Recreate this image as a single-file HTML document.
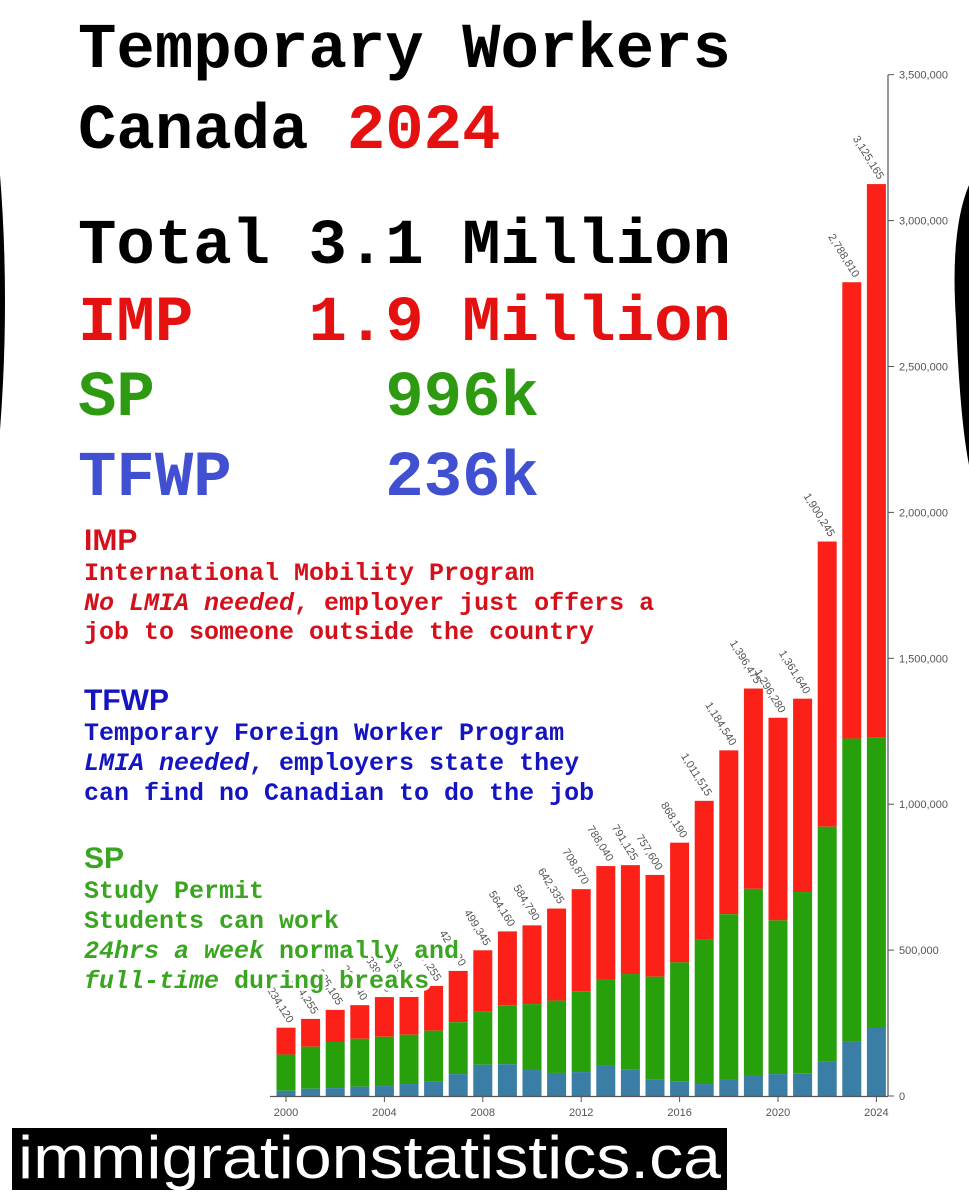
<!DOCTYPE html>
<html><head><meta charset="utf-8">
<style>
html,body{margin:0;padding:0;background:#fff;}
body{width:969px;height:1200px;position:relative;overflow:hidden;}
svg{position:absolute;left:0;top:0;}
.mono{font-family:"Liberation Mono",monospace;font-weight:bold;}
.sans{font-family:"Liberation Sans",sans-serif;}
</style></head>
<body>
<svg id="chart" width="969" height="1200" viewBox="0 0 969 1200">
  <path d="M0,175 Q10,300 0,430 Z" fill="#000"/>
  <path d="M969,185 Q950,230 956,320 Q960,420 969,465 Z" fill="#000"/>
  <g id="bars"></g>
  <g id="labels"></g>
  <g id="yaxis"></g>
  <g id="xaxis"></g>

  <g class="mono" font-size="64">
    <text x="78" y="67" fill="#000">Temporary Workers</text>
    <text x="78" y="148" fill="#000">Canada <tspan fill="#e51010">2024</tspan></text>
    <text x="78" y="263" fill="#000">Total 3.1 Million</text>
    <text x="78" y="340" fill="#e51010" xml:space="preserve">IMP   1.9 Million</text>
    <text x="78" y="415" fill="#2e9a12" xml:space="preserve">SP      996k</text>
    <text x="78" y="495" fill="#4150d0" xml:space="preserve">TFWP    236k</text>
  </g>

  <g class="mono" font-size="25">
    <text class="sans" x="84" y="550" font-size="30" font-weight="bold" fill="#d4101a">IMP</text>
    <text x="84" y="580" fill="#d4101a">International Mobility Program</text>
    <text x="84" y="610" fill="#d4101a"><tspan font-style="italic">No LMIA needed</tspan>, employer just offers a</text>
    <text x="84" y="639" fill="#d4101a">job to someone outside the country</text>

    <text class="sans" x="84" y="710" font-size="30" font-weight="bold" fill="#1515c0">TFWP</text>
    <text x="84" y="740" fill="#1515c0">Temporary Foreign Worker Program</text>
    <text x="84" y="770" fill="#1515c0"><tspan font-style="italic">LMIA needed</tspan>, employers state they</text>
    <text x="84" y="800" fill="#1515c0">can find no Canadian to do the job</text>

    <text class="sans" x="84" y="868" font-size="30" font-weight="bold" fill="#3aa520">SP</text>
    <g fill="#3aa520" stroke="#fff" stroke-width="6" paint-order="stroke">
    <text x="84" y="898">Study Permit</text>
    <text x="84" y="928">Students can work</text>
    <text x="84" y="958"><tspan font-style="italic">24hrs a week</tspan> normally and</text>
    <text x="84" y="988"><tspan font-style="italic">full-time</tspan> during breaks</text>
    </g>
  </g>

  <rect x="12" y="1128" width="715" height="62" fill="#000"/>
  <text class="sans" x="18" y="1178" font-size="60" fill="#fff" textLength="703" lengthAdjust="spacingAndGlyphs">immigrationstatistics.ca</text>
</svg>
<script>
const years = [2000,2001,2002,2003,2004,2005,2006,2007,2008,2009,2010,2011,2012,2013,2014,2015,2016,2017,2018,2019,2020,2021,2022,2023,2024];
const tfwp = [18000,25000,27000,32000,34000,41000,51000,75000,107000,109000,89000,79000,82000,103000,92000,57000,49000,41000,55000,72000,75000,78000,117000,187000,233000];
const sp = [124000,144000,158000,164000,169000,169000,173000,178000,183000,202000,226000,248000,277000,298000,326000,352000,409000,494000,568000,638000,527000,621000,806000,1038000,996000];
const totals = [234120,264255,295105,311340,339050,339210,377255,428630,499345,564160,584790,642335,708870,788040,791125,757600,868190,1011515,1184540,1396475,1296280,1361640,1900245,2788810,3125165];
const yTicks = [0,500000,1000000,1500000,2000000,2500000,3000000,3500000];
const xTickYears = [2000,2004,2008,2012,2016,2020,2024];

const NS='http://www.w3.org/2000/svg';
const y0=1096, pxPerUnit=291.8/1e6;
function yScale(v){return y0 - v*pxPerUnit;}
function xScale(yr){return 286 + (yr-2000)*24.6;}
const bw=19;
function mk(tag,attrs,parent){const e=document.createElementNS(NS,tag);for(const k in attrs)e.setAttribute(k,attrs[k]);parent.appendChild(e);return e;}
const gb=document.getElementById('bars'), gl=document.getElementById('labels'), gy=document.getElementById('yaxis'), gx=document.getElementById('xaxis');
const fmt=v=>v.toLocaleString('en-US');

years.forEach((yr,i)=>{
  const cx=xScale(yr), x=cx-bw/2;
  const t1=tfwp[i], t2=t1+sp[i], t3=totals[i];
  let r=mk('rect',{x:x,y:yScale(t3),width:bw,height:yScale(t2)-yScale(t3),fill:'#fb2118'},gb);
  
  
  r=mk('rect',{x:x,y:yScale(t2),width:bw,height:yScale(t1)-yScale(t2),fill:'#28a00c'},gb);
  
  
  r=mk('rect',{x:x,y:yScale(t1),width:bw,height:y0-yScale(t1),fill:'#3a7ea6'},gb);
  
  
  const ty=yScale(t3)-4;
  const t=mk('text',{x:cx+2,y:ty,'font-size':11,'font-family':'Liberation Sans, sans-serif',fill:'#555','text-anchor':'end',transform:`rotate(58 ${cx+2} ${ty})`},gl);
  t.textContent=fmt(t3);
  
  
});

mk('line',{x1:888,y1:yScale(3500000),x2:888,y2:y0,stroke:'#555','stroke-width':1.2},gy);
mk('line',{x1:270,y1:y0+0.5,x2:888,y2:y0+0.5,stroke:'#555','stroke-width':1.2},gx);
yTicks.forEach(v=>{
  const yy=yScale(v);
  mk('line',{x1:888,y1:yy,x2:894,y2:yy,stroke:'#555'},gy);
  const t=mk('text',{x:899,y:yy+4,'font-size':11,'font-family':'Liberation Sans, sans-serif',fill:'#555'},gy);
  t.textContent=fmt(v);
  
  
});
xTickYears.forEach(yr=>{
  const xx=xScale(yr);
  mk('line',{x1:xx,y1:y0,x2:xx,y2:y0+6,stroke:'#555'},gx);
  const t=mk('text',{x:xx,y:y0+20,'font-size':11,'font-family':'Liberation Sans, sans-serif',fill:'#555','text-anchor':'middle'},gx);
  t.textContent=yr;
  
  
});
</script>
</body></html>
